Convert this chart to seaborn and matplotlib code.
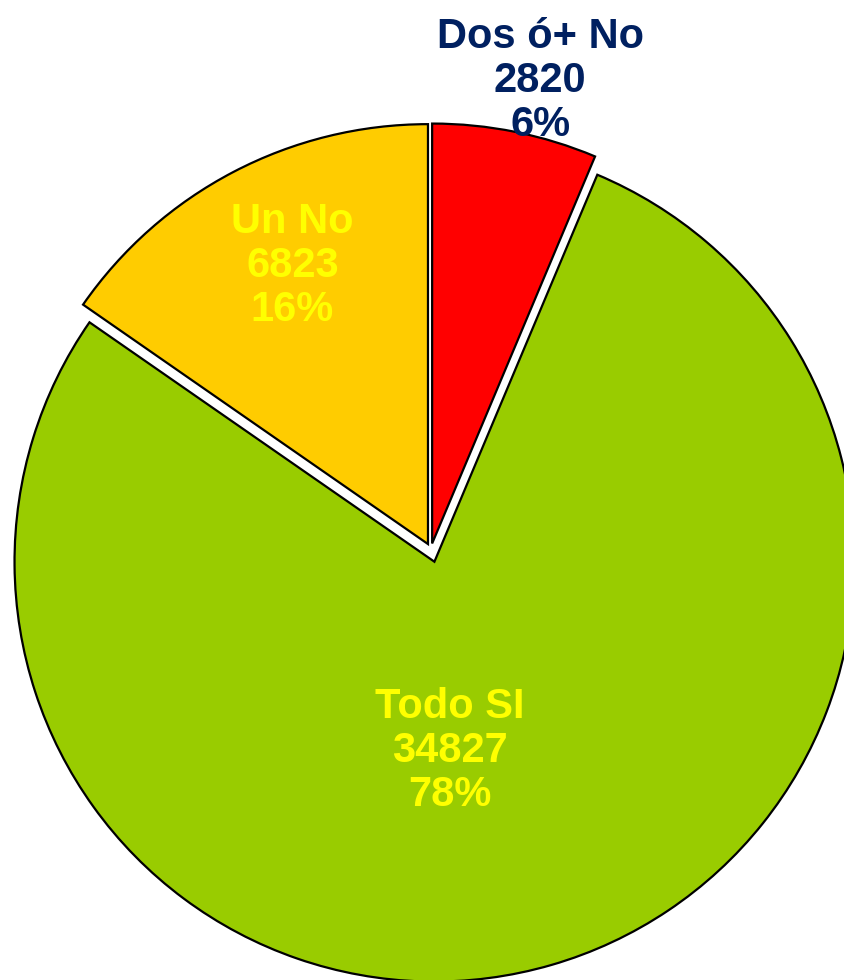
import numpy as np
import pandas as pd
import seaborn as sns
import matplotlib.pyplot as plt

categories = ["Dos ó+ No", "Todo SI", "Un No"]
counts = [2820, 34827, 6823]
percents = [6, 78, 16]

sns.set_theme(style="white")
plt.rcParams["font.family"] = ["Liberation Sans", "DejaVu Sans"]

df = pd.DataFrame({"categoria": categories, "n": counts, "pct": percents})

colors = ["#FF0000", "#99CC00", "#FFCC00"]
text_colors = ["#002060", "#FFFF00", "#FFFF00"]
explode = [0.015, 0.03, 0.015]
# label placement (data units, radius = 1)
label_pos = [(0.26, 1.115), (0.045, -0.48), (-0.33, 0.675)]

fig = plt.figure(figsize=(8.45, 9.8), dpi=100)
ax = fig.add_axes([0, 0, 1, 1])

ax.pie(df["n"], colors=colors, startangle=90, counterclock=False,
       explode=explode, radius=1.0,
       wedgeprops=dict(edgecolor="black", linewidth=1.6))

for (x, y), cat, n, p, c in zip(label_pos, df["categoria"], df["n"], df["pct"], text_colors):
    ax.text(x, y, f"{cat}\n{n}\n{p}%", ha="center", va="center", color=c,
            fontsize=30, fontweight="bold", linespacing=1.13)

ax.set_xlim(-1.026, 0.986)
ax.set_ylim(-1.025, 1.309)
ax.set_aspect("equal")
ax.axis("off")

fig.savefig("out.png", dpi=100)
